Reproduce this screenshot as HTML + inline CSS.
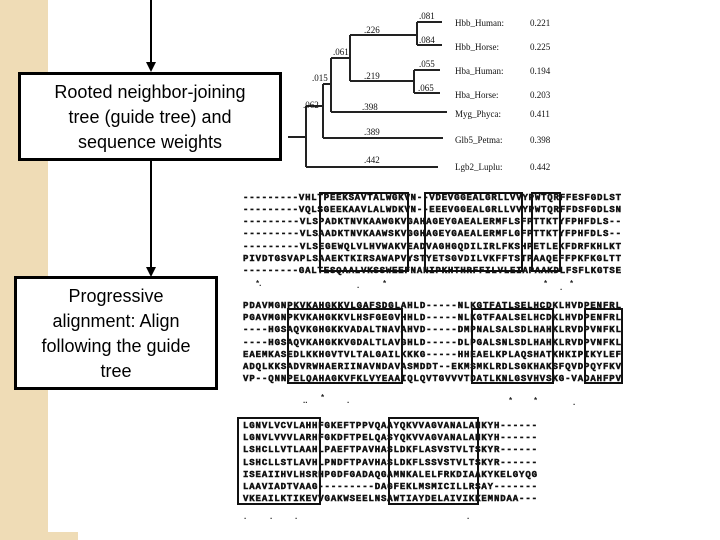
<!DOCTYPE html>
<html><head><meta charset="utf-8"><style>
html,body{margin:0;padding:0;background:#fff}
body{width:720px;height:540px;position:relative;overflow:hidden;font-family:"Liberation Sans",sans-serif}
.strip{position:absolute;left:0;top:0;width:48px;height:540px;background:#efdcb6}
.box{position:absolute;border:3px solid #000;background:#fff;text-align:center;font-size:18px;line-height:25px;color:#000;box-sizing:border-box}
svg{position:absolute;left:0;top:0}
</style></head><body>
<div class="strip"></div>
<div style="position:absolute;left:0;top:532px;width:78px;height:8px;background:#efdcb6"></div>
<svg width="720" height="540" viewBox="0 0 720 540">
<g stroke="#000" stroke-width="2" fill="none">
<line x1="151" y1="0" x2="151" y2="64"/>
<line x1="151" y1="160" x2="151" y2="268"/>
</g>
<polygon points="146,62 156,62 151,72" fill="#000"/>
<polygon points="146,267 156,267 151,277" fill="#000"/>
<g stroke="#222" stroke-width="2" fill="none">
<line x1="288" y1="137" x2="306" y2="137"/>
<line x1="306" y1="106" x2="306" y2="167"/>
<line x1="306" y1="167" x2="438" y2="167"/>
<line x1="306" y1="106" x2="323" y2="106"/>
<line x1="323" y1="84" x2="323" y2="138"/>
<line x1="323" y1="138" x2="443" y2="138"/>
<line x1="323" y1="84" x2="331" y2="84"/>
<line x1="331" y1="58" x2="331" y2="112"/>
<line x1="331" y1="112" x2="447" y2="112"/>
<line x1="331" y1="58" x2="350" y2="58"/>
<line x1="350" y1="35" x2="350" y2="81"/>
<line x1="350" y1="35" x2="417" y2="35"/>
<line x1="417" y1="22" x2="417" y2="45"/>
<line x1="417" y1="22" x2="442" y2="22"/>
<line x1="417" y1="45" x2="442" y2="45"/>
<line x1="350" y1="81" x2="414" y2="81"/>
<line x1="414" y1="70" x2="414" y2="93"/>
<line x1="414" y1="70" x2="440" y2="70"/>
<line x1="414" y1="93" x2="440" y2="93"/>
</g>
<g font-family="Liberation Serif,serif" font-size="9" fill="#111">
<text x="419" y="19">.081</text><text x="419" y="43">.084</text>
<text x="419" y="67">.055</text><text x="418" y="91">.065</text>
<text x="364" y="33">.226</text><text x="364" y="79">.219</text>
<text x="333" y="55">.061</text><text x="312" y="81">.015</text>
<text x="303" y="108">.062</text><text x="362" y="110">.398</text>
<text x="364" y="135">.389</text><text x="364" y="163">.442</text>
<text x="455" y="26">Hbb_Human:</text><text x="530" y="26">0.221</text>
<text x="455" y="50">Hbb_Horse:</text><text x="530" y="50">0.225</text>
<text x="455" y="74">Hba_Human:</text><text x="530" y="74">0.194</text>
<text x="455" y="98">Hba_Horse:</text><text x="530" y="98">0.203</text>
<text x="455" y="117">Myg_Phyca:</text><text x="530" y="117">0.411</text>
<text x="455" y="143">Glb5_Petma:</text><text x="530" y="143">0.398</text>
<text x="455" y="170">Lgb2_Luplu:</text><text x="530" y="170">0.442</text>
</g>
<g font-family="Liberation Mono,monospace" font-size="9" font-weight="bold" fill="#111" stroke="#111" stroke-width="0.5" lengthAdjust="spacingAndGlyphs">
<text x="243" y="200" textLength="378">---------VHLTPEEKSAVTALWGKVN--VDEVGGEALGRLLVVYPWTQRFFESFGDLST</text>
<text x="243" y="212" textLength="378">---------VQLSGEEKAAVLALWDKVN--EEEVGGEALGRLLVVYPWTQRFFDSFGDLSN</text>
<text x="243" y="224" textLength="378">---------VLSPADKTNVKAAWGKVGAHAGEYGAEALERMFLSFPTTKTYFPHFDLS--</text>
<text x="243" y="236" textLength="378">---------VLSAADKTNVKAAWSKVGGHAGEYGAEALERMFLGFPTTKTYFPHFDLS--</text>
<text x="243" y="249" textLength="378">---------VLSEGEWQLVLHVWAKVEADVAGHGQDILIRLFKSHPETLEKFDRFKHLKT</text>
<text x="243" y="261" textLength="378">PIVDTGSVAPLSAAEKTKIRSAWAPVYSTYETSGVDILVKFFTSTPAAQEFFPKFKGLTT</text>
<text x="243" y="273" textLength="378">---------GALTESQAALVKSSWEEFNANIPKHTHRFFILVLEIAPAAKDLFSFLKGTSE</text>
<text x="243" y="308" textLength="378">PDAVMGNPKVKAHGKKVLGAFSDGLAHLD-----NLKGTFATLSELHCDKLHVDPENFRL</text>
<text x="243" y="320" textLength="378">PGAVMGNPKVKAHGKKVLHSFGEGVHHLD-----NLKGTFAALSELHCDKLHVDPENFRL</text>
<text x="243" y="332" textLength="378">----HGSAQVKGHGKKVADALTNAVAHVD-----DMPNALSALSDLHAHKLRVDPVNFKL</text>
<text x="243" y="345" textLength="378">----HGSAQVKAHGKKVGDALTLAVGHLD-----DLPGALSNLSDLHAHKLRVDPVNFKL</text>
<text x="243" y="357" textLength="378">EAEMKASEDLKKHGVTVLTALGAILKKKG-----HHEAELKPLAQSHATKHKIPIKYLEF</text>
<text x="243" y="369" textLength="378">ADQLKKSADVRWHAERIINAVNDAVASMDDT--EKMSMKLRDLSGKHAKSFQVDPQYFKV</text>
<text x="243" y="381" textLength="378">VP--QNNPELQAHAGKVFKLVYEAAIQLQVTGVVVTDATLKNLGSVHVSKG-VADAHFPV</text>
<text x="243" y="428" textLength="294">LGNVLVCVLAHHFGKEFTPPVQAAYQKVVAGVANALAHKYH------</text>
<text x="243" y="440" textLength="294">LGNVLVVVLARHFGKDFTPELQASYQKVVAGVANALAHKYH------</text>
<text x="243" y="452" textLength="294">LSHCLLVTLAAHLPAEFTPAVHASLDKFLASVSTVLTSKYR------</text>
<text x="243" y="465" textLength="294">LSHCLLSTLAVHLPNDFTPAVHASLDKFLSSVSTVLTSKYR------</text>
<text x="243" y="477" textLength="294">ISEAIIHVLHSRHPGDFGADAQGAMNKALELFRKDIAAKYKELGYQG</text>
<text x="243" y="489" textLength="294">LAAVIADTVAAG---------DAGFEKLMSMICILLRSAY-------</text>
<text x="243" y="501" textLength="294">VKEAILKTIKEVVGAKWSEELNSAWTIAYDELAIVIKKEMNDAA---</text>
</g>
<g font-family="Liberation Sans,sans-serif" font-size="8" font-weight="bold" fill="#222">
<text x="256" y="286">*.</text><text x="357" y="288">.</text><text x="383" y="286">*</text>
<text x="544" y="286">*</text><text x="560" y="290">.</text><text x="570" y="286">*</text>
<text x="303" y="403">..</text><text x="321" y="400">*</text><text x="347" y="403">.</text>
<text x="509" y="403">*</text><text x="534" y="403">*</text><text x="573" y="405">.</text>
<text x="244" y="519">.</text><text x="270" y="519">.</text><text x="295" y="519">.</text><text x="467" y="519">.</text>
</g>
<g stroke="#111" stroke-width="2" fill="none">
<rect x="320" y="193" width="88" height="78"/>
<rect x="425" y="193" width="97" height="78"/>
<rect x="532" y="193" width="28" height="78"/>
<rect x="288" y="309" width="114" height="74"/>
<rect x="472" y="309" width="81" height="74"/>
<rect x="585" y="309" width="37" height="74"/>
<rect x="238" y="418" width="82" height="86"/>
<rect x="389" y="418" width="89" height="86"/>
</g>
</svg>
<div class="box" style="left:18px;top:72px;width:264px;height:89px;padding-top:5px">Rooted neighbor-joining<br>tree (guide tree) and<br>sequence weights</div>
<div class="box" style="left:14px;top:276px;width:204px;height:114px;padding-top:5px">Progressive<br>alignment: Align<br>following the guide<br>tree</div>
</body></html>
